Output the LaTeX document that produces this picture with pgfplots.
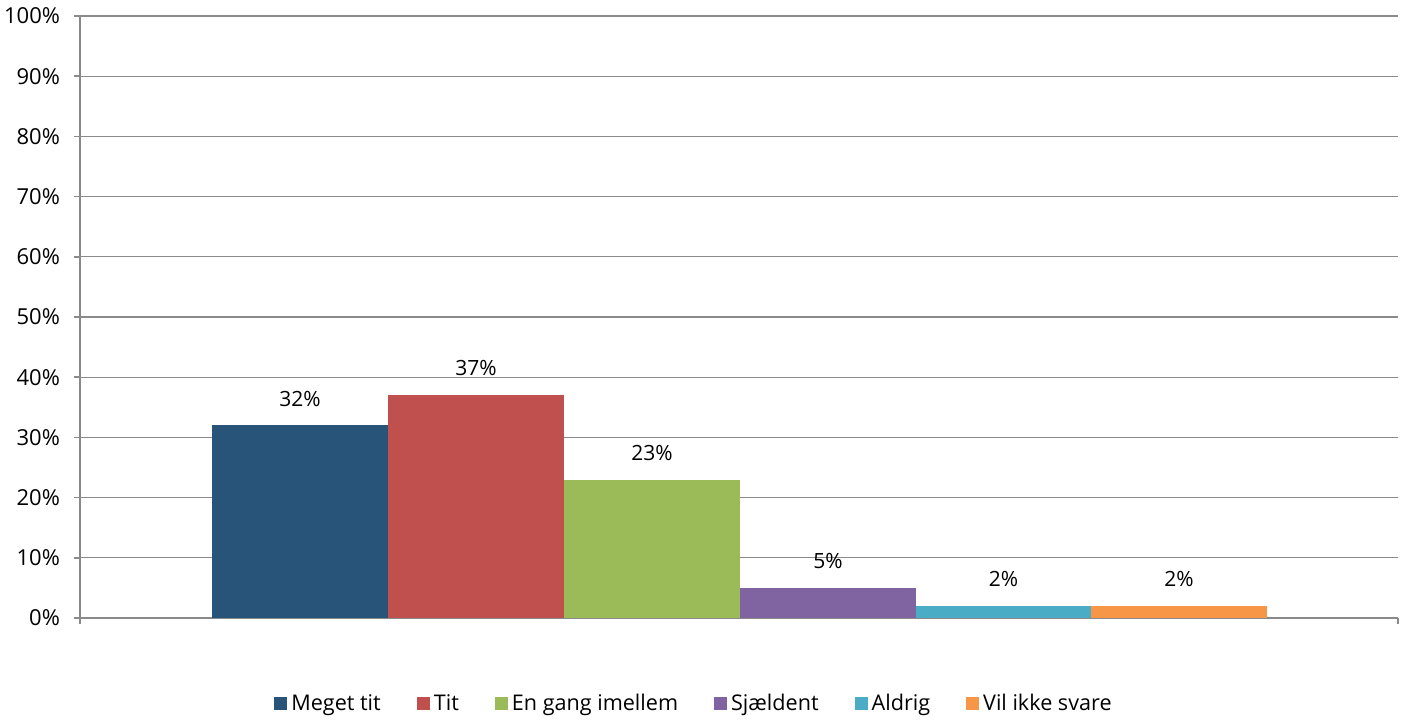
\documentclass[border=0pt]{standalone}
\usepackage{fontspec}
\setmainfont{Open Sans}
\usepackage{pgfplots}
\pgfplotsset{compat=1.18}
\definecolor{c1}{HTML}{28547A}
\definecolor{c2}{HTML}{C0504D}
\definecolor{c3}{HTML}{9BBB59}
\definecolor{c4}{HTML}{8064A2}
\definecolor{c5}{HTML}{4BACC6}
\definecolor{c6}{HTML}{F79646}
\definecolor{gridgray}{HTML}{8A8A8A}
\begin{document}
\begin{tikzpicture}[font=\fontsize{10.5pt}{12pt}\selectfont]
\useasboundingbox (-40pt,-52pt) rectangle (664pt,309pt);
\begin{axis}[
    at={(0pt,0pt)}, anchor=south west,
    scale only axis,
    width=659pt, height=301pt,
    /pgf/number format/assume math mode=true,
    ybar, bar width=176, bar shift=0pt,
    xmin=0, xmax=1318,
    ymin=0, ymax=100,
    xtick={0,1318}, xticklabels={},
    ytick={0,10,...,100},
    yticklabel={\pgfmathprintnumber{\tick}\%},
    tick align=outside,
    major tick length=3pt,
    tick style={gridgray, line width=0.75pt},
    axis x line*=bottom, axis y line*=left,
    axis line style={gridgray, line width=0.75pt, -},
    ymajorgrids=true,
    grid style={gridgray, line width=0.6pt},
    yticklabel style={font=\fontsize{11pt}{13pt}\selectfont, xshift=-3.5pt},
    nodes near coords={\pgfmathprintnumber{\pgfplotspointmeta}\%},
    nodes near coords style={anchor=south, yshift=6pt, font=\fontsize{10.5pt}{12pt}\selectfont, text=black},
    legend columns=6,
    legend style={draw=none, at={(0.4666,-0.143)}, anchor=center,
        font=\fontsize{10.8pt}{13pt}\selectfont,
        /tikz/every even column/.append style={column sep=16pt}},
    legend image code/.code={\fill[#1] (0pt,-3pt) rectangle (6.5pt,3.5pt);},
]
\addplot[fill=c1, draw=none] coordinates {(220,32)};
\addplot[fill=c2, draw=none] coordinates {(396,37)};
\addplot[fill=c3, draw=none] coordinates {(572,23)};
\addplot[fill=c4, draw=none] coordinates {(748,5)};
\addplot[fill=c5, draw=none] coordinates {(923.5,2)};
\addplot[fill=c6, draw=none] coordinates {(1099,2)};
\legend{Meget tit, Tit, En gang imellem, Sjældent, Aldrig, Vil ikke svare}
\end{axis}
\end{tikzpicture}
\end{document}
